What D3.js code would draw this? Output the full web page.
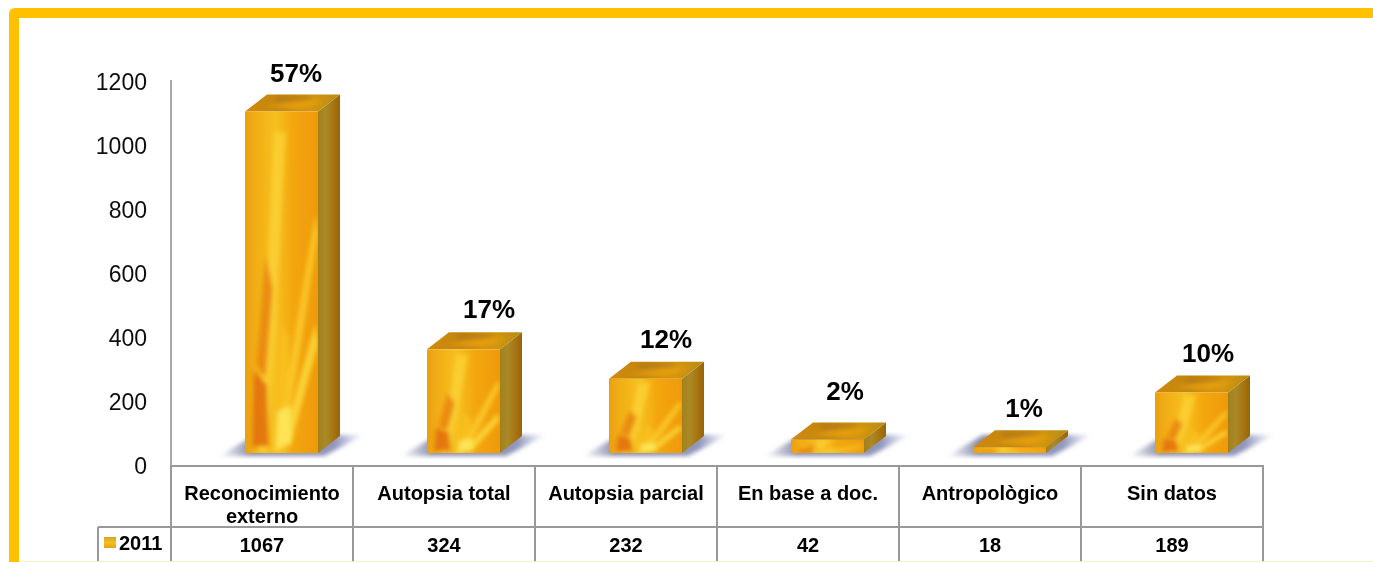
<!DOCTYPE html>
<html>
<head>
<meta charset="utf-8">
<script src="https://cdn.jsdelivr.net/npm/d3@7"></script>
<style>
    html, body { margin: 0; background: #fff; }
    svg { display: block; font-family: "Liberation Sans", Arial, sans-serif; }
</style>
</head>
<body>
<div id="chart"></div>
<script>
const categories = [["Reconocimiento", "externo"], ["Autopsia total"], ["Autopsia parcial"], ["En base a doc."], ["Antropològico"], ["Sin datos"]];
const values = [1067, 324, 232, 42, 18, 189];
const percents = ["57%", "17%", "12%", "2%", "1%", "10%"];
const yTicks = [0, 200, 400, 600, 800, 1000, 1200];
const seriesName = "2011";

// hand placed in the original, so nudged here too
const labelNudgeX = [-18, -7, -12, -15, -18, -16];
const labelNudgeY = [1, 0, 0, -9, 1, 0];

const width = 1373, height = 562;
const depthX = 22, depthY = 17, baseLift = 13;

const svg = d3.select("#chart").append("svg").attr("width", width).attr("height", height);
const defs = svg.append("defs");

const x = d3.scaleBand().domain(d3.range(categories.length)).range([171, 1263]);
const y = d3.scaleLinear().domain([0, 1200]).range([466, 82]);
const barW = 73, barOffset = 74;

function gradient(id, stops, horizontal = true) {
    const g = defs.append("linearGradient").attr("id", id)
        .attr("x1", 0).attr("y1", 0).attr("x2", horizontal ? 1 : 0).attr("y2", horizontal ? 0 : 1);
    stops.forEach(s => g.append("stop").attr("offset", s[0]).attr("stop-color", s[1]).attr("stop-opacity", s[2] ?? 1));
}

gradient("front", [[0, "#EBA010"], [0.15, "#F2AE14"], [0.42, "#F6C020"], [0.66, "#F3A60E"], [1, "#EF9A06"]]);
gradient("side", [[0, "#A2801E"], [0.35, "#A98A28"], [0.7, "#A87410"], [1, "#96640C"]]);
gradient("top", [[0, "#D08A0C"], [0.35, "#C4860E"], [0.7, "#D4960E"], [1, "#B88A16"]]);
gradient("shadow", [[0, "#8488A8", 0], [0.22, "#8488A8", 0.95], [0.8, "#8A90B8", 0.95], [1, "#A0A8D0", 0]]);

defs.append("filter").attr("id", "soft").append("feGaussianBlur").attr("stdDeviation", 0.7);
defs.append("filter").attr("id", "soft2").append("feGaussianBlur").attr("stdDeviation", 2.2);
defs.append("filter").attr("id", "textSoft").append("feGaussianBlur").attr("stdDeviation", 0.35);

// frame
svg.append("path").attr("fill", "#FFC000")
    .attr("d", "M9 562V14Q9 8 15 8H1373V18H19V562Z");
svg.append("rect").attr("x", 19).attr("y", 561).attr("width", width).attr("height", 1).attr("fill", "#F6F0C4");

// y axis
const axis = svg.append("g").attr("transform", "translate(171,0)").attr("filter", "url(#textSoft)")
    .call(d3.axisLeft(y).tickValues(yTicks).tickSize(0).tickPadding(24).tickFormat(d3.format("d")));
axis.select(".domain").remove();
axis.selectAll("text").attr("font-family", "Liberation Sans").attr("font-size", 23).attr("fill", "#111");

// table grid
const grid = svg.append("g").attr("stroke", "#999").attr("stroke-width", 2);
grid.append("line").attr("x1", 171).attr("x2", 171).attr("y1", 80).attr("y2", 466).attr("stroke", "#aaa");
grid.append("line").attr("x1", 171).attr("x2", x.range()[1] + 1).attr("y1", 466).attr("y2", 466);
grid.append("line").attr("x1", 98).attr("x2", x.range()[1] + 1).attr("y1", 527).attr("y2", 527);
grid.append("line").attr("x1", 98).attr("x2", 98).attr("y1", 527).attr("y2", 561);
d3.range(categories.length + 1).forEach(i => {
    const xp = i < categories.length ? x(i) : x.range()[1];
    grid.append("line").attr("x1", xp).attr("x2", xp).attr("y1", 466).attr("y2", 561);
});

// wheat streaks, in bar units: u across the face, v down it
const streaks = [
    { fill: "#FBD235", o: 0.8, pts: [[0.4, 0.06], [0.56, 0.06], [0.42, 0.6], [0.3, 1], [0.18, 1], [0.28, 0.6]] },
    { fill: "#FBC92A", o: 0.85, pts: [[0.96, 0.3], [1, 0.36], [0.72, 0.75], [0.5, 1], [0.4, 1], [0.64, 0.7]] },
    { fill: "#FAC322", o: 0.75, pts: [[0.5, 0.62], [0.6, 0.66], [0.58, 1], [0.44, 1]] },
    { fill: "#FCDC40", o: 0.8, pts: [[0.96, 0.62], [1, 0.68], [0.62, 0.98], [0.52, 0.96]] },
    { fill: "#E9830E", o: 0.85, pts: [[0.28, 0.42], [0.38, 0.52], [0.28, 0.78], [0.16, 0.74]] },
    { fill: "#E2700E", o: 0.9, pts: [[0.12, 0.76], [0.3, 0.8], [0.32, 0.98], [0.1, 0.98]] },
    { fill: "#FDE75A", o: 0.9, pts: [[0.44, 0.88], [0.62, 0.86], [0.64, 0.97], [0.42, 0.99]] }
];
// same idea for the top and side faces, u along the face and v across it
const topStreaks = [
    { fill: "#E8A010", o: 0.9, pts: [[0.1, 0.7], [0.7, 0.35], [0.95, 0.4], [0.6, 0.85]] },
    { fill: "#A87010", o: 0.7, pts: [[0.3, 0.15], [0.8, 0.1], [0.7, 0.3], [0.25, 0.4]] }
];

const bars = svg.append("g").attr("filter", "url(#soft)");

values.forEach((v, i) => {
    const x0 = x(i) + barOffset, x1 = x0 + barW;
    const y1 = y(0) - baseLift, y0 = y(v) - baseLift;
    const g = bars.append("g");
    const poly = d3.line();

    g.append("path").attr("fill", "url(#shadow)").attr("filter", "url(#soft2)")
        .attr("d", poly([[x0 - 26, y1 + 3], [x1 + 6, y1 + 3], [x1 + depthX + 24, y1 - depthY - 1], [x0 + 10, y1 - depthY - 1]]) + "Z");

    g.append("path").attr("fill", "url(#side)")
        .attr("d", poly([[x1, y0], [x1 + depthX, y0 - depthY], [x1 + depthX, y1 - depthY], [x1, y1]]) + "Z");

    const topFace = poly([[x0, y0], [x0 + depthX, y0 - depthY], [x1 + depthX, y0 - depthY], [x1, y0]]) + "Z";
    g.append("path").attr("fill", "url(#top)").attr("d", topFace);
    defs.append("clipPath").attr("id", `topface${i}`).append("path").attr("d", topFace);
    const tu = d3.scaleLinear().range([x0 + depthX / 2, x1 + depthX / 2]);
    const tv = d3.scaleLinear().range([y0 - depthY, y0]);
    const topTex = g.append("g").attr("clip-path", `url(#topface${i})`).append("g").attr("filter", "url(#soft2)");
    topStreaks.forEach(s => {
        topTex.append("path").attr("fill", s.fill).attr("opacity", s.o)
            .attr("d", poly(s.pts.map(p => [tu(p[0]), tv(p[1])])) + "Z");
    });

    defs.append("clipPath").attr("id", `face${i}`).append("rect")
        .attr("x", x0).attr("y", y0).attr("width", barW).attr("height", y1 - y0);

    g.append("rect").attr("x", x0).attr("y", y0).attr("width", barW).attr("height", y1 - y0).attr("fill", "url(#front)");

    const u = d3.scaleLinear().range([x0, x1]);
    const w = d3.scaleLinear().range([y0, y1]);
    const tex = g.append("g").attr("clip-path", `url(#face${i})`).append("g").attr("filter", "url(#soft2)");
    streaks.forEach(s => {
        tex.append("path").attr("fill", s.fill).attr("opacity", s.o)
            .attr("d", poly(s.pts.map(p => [u(p[0]), w(p[1])])) + "Z");
    });

    svg.append("text").attr("x", x(i) + 143 + labelNudgeX[i]).attr("y", y0 - depthY - 14 + labelNudgeY[i])
        .attr("text-anchor", "middle").attr("font-size", 26).attr("font-weight", "bold").attr("fill", "#000")
        .attr("filter", "url(#textSoft)").text(percents[i]);
});

// table text
const cells = svg.append("g").attr("font-weight", "bold").attr("font-size", 20).attr("fill", "#000")
    .attr("text-anchor", "middle").attr("filter", "url(#textSoft)");
categories.forEach((lines, i) => {
    const cx = x(i) + x.bandwidth() / 2;
    lines.forEach((t, k) => {
        cells.append("text").attr("x", cx).attr("y", 500 + k * 23).text(t);
    });
    cells.append("text").attr("x", cx).attr("y", 552).text(values[i]);
});

// legend key
defs.append("linearGradient").attr("id", "key").attr("x1", 0).attr("y1", 0).attr("x2", 0).attr("y2", 1)
    .selectAll("stop").data([[0, "#D9A030"], [0.5, "#F2C020"], [1, "#E8A018"]]).join("stop")
    .attr("offset", d => d[0]).attr("stop-color", d => d[1]);
svg.append("rect").attr("x", 104).attr("y", 537).attr("width", 12).attr("height", 11)
    .attr("fill", "url(#key)").attr("filter", "url(#soft)");
svg.append("text").attr("x", 119).attr("y", 550).attr("font-size", 20).attr("font-weight", "bold").attr("fill", "#000")
    .attr("filter", "url(#textSoft)").text(seriesName);
</script>
</body>
</html>
